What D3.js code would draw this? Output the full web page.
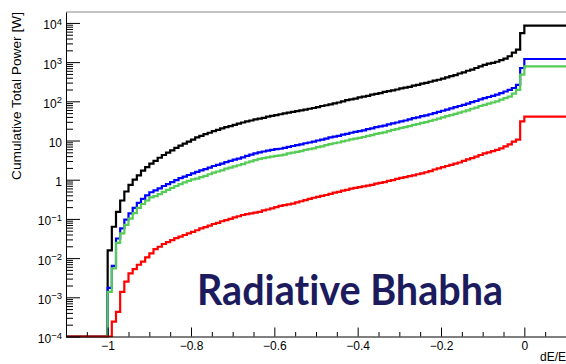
<!DOCTYPE html>
<html>
<head>
<meta charset="utf-8">
<script src="https://cdn.jsdelivr.net/npm/d3@7"></script>
<style>
  html, body { margin: 0; padding: 0; background: #fff; }
  svg { display: block; }
</style>
</head>
<body>
<script>
// Cumulative total power [W] per dE/E bin (bin width 0.01, bins from -1.00 to -0.01).
// Bins below -1.00 are empty; every bin from 0 to 0.1 holds the full total.
const binWidth = 0.01;
const firstBinLow = -1.0;

const powerBlack = [
  0.0158, 0.0631, 0.151, 0.295, 0.501, 0.741, 1.00, 1.29, 1.70, 2.09,
  2.57, 3.02, 3.63, 4.27, 4.90, 5.62, 6.46, 7.41, 8.32, 9.33,
  10.5, 12.0, 13.2, 14.5, 15.8, 17.4, 18.6, 20.4, 21.9, 23.4,
  25.1, 26.9, 28.8, 30.9, 32.4, 34.7, 36.3, 38.0, 40.7, 42.7,
  44.7, 46.8, 49.0, 51.3, 53.7, 56.2, 58.9, 61.7, 64.6, 67.6,
  70.8, 75.9, 79.4, 83.2, 89.1, 93.3, 100, 107, 112, 117,
  126, 132, 138, 148, 155, 162, 174, 182, 191, 200,
  214, 224, 234, 251, 263, 282, 295, 316, 339, 355,
  380, 407, 437, 468, 513, 550, 603, 646, 708, 776,
  851, 912, 955, 1023, 1122, 1230, 1413, 1738, 2089, 5495
];
const powerBlue = [
  0.00174, 0.00631, 0.0316, 0.0575, 0.0955, 0.138, 0.191, 0.257, 0.324, 0.398,
  0.479, 0.537, 0.603, 0.692, 0.776, 0.871, 0.977, 1.10, 1.20, 1.32,
  1.45, 1.58, 1.74, 1.86, 2.04, 2.24, 2.40, 2.57, 2.82, 3.02,
  3.24, 3.47, 3.72, 4.07, 4.37, 4.68, 5.01, 5.25, 5.50, 5.75,
  6.03, 6.17, 6.46, 6.92, 7.24, 7.59, 7.94, 8.51, 8.91, 9.33,
  10.0, 10.5, 11.2, 12.0, 12.6, 13.2, 14.1, 14.8, 15.8, 16.6,
  17.4, 18.2, 19.5, 20.4, 21.9, 22.9, 24.0, 25.7, 27.5, 28.8,
  30.9, 32.4, 34.7, 37.2, 38.9, 41.7, 43.7, 46.8, 50.1, 53.7,
  57.5, 61.7, 66.1, 70.8, 75.9, 81.3, 87.1, 95.5, 102, 112,
  120, 129, 138, 148, 162, 178, 195, 219, 263, 708
];
const powerGreen = [
  0.00138, 0.00550, 0.0245, 0.0427, 0.0708, 0.102, 0.141, 0.191, 0.240, 0.295,
  0.355, 0.380, 0.427, 0.490, 0.550, 0.617, 0.692, 0.776, 0.851, 0.933,
  1.02, 1.07, 1.17, 1.26, 1.38, 1.51, 1.62, 1.74, 1.91, 2.04,
  2.19, 2.34, 2.51, 2.75, 2.95, 3.16, 3.39, 3.55, 3.72, 3.89,
  4.07, 4.17, 4.37, 4.68, 4.90, 5.13, 5.37, 5.75, 6.03, 6.31,
  6.76, 7.08, 7.59, 8.13, 8.51, 8.91, 9.55, 10.0, 10.7, 11.2,
  11.7, 12.3, 13.2, 13.8, 14.8, 15.5, 16.2, 17.4, 18.6, 19.5,
  20.9, 21.9, 23.4, 25.1, 26.3, 28.2, 29.5, 31.6, 33.9, 36.3,
  38.9, 41.7, 44.7, 47.9, 51.3, 55.0, 58.9, 64.6, 69.2, 75.9,
  81.3, 87.1, 93.3, 100, 110, 120, 132, 158, 195, 479
];
const powerRed = [
  0, 0.00024, 0.000427, 0.00138, 0.00251, 0.00407, 0.00525, 0.00676, 0.00813, 0.0105,
  0.0132, 0.0170, 0.0195, 0.0229, 0.0257, 0.0288, 0.0324, 0.0355, 0.0389, 0.0427,
  0.0468, 0.0513, 0.0575, 0.0617, 0.0676, 0.0741, 0.0794, 0.0871, 0.0933, 0.100,
  0.110, 0.117, 0.126, 0.132, 0.138, 0.145, 0.151, 0.166, 0.174, 0.186,
  0.200, 0.214, 0.224, 0.234, 0.245, 0.263, 0.282, 0.302, 0.324, 0.347,
  0.363, 0.389, 0.407, 0.437, 0.468, 0.490, 0.525, 0.550, 0.589, 0.617,
  0.646, 0.676, 0.708, 0.741, 0.794, 0.832, 0.871, 0.933, 0.977, 1.05,
  1.12, 1.17, 1.23, 1.29, 1.38, 1.45, 1.55, 1.66, 1.82, 1.95,
  2.09, 2.24, 2.40, 2.57, 2.75, 3.02, 3.31, 3.55, 3.89, 4.27,
  4.68, 5.01, 5.37, 5.75, 6.31, 7.08, 7.94, 9.33, 10.5, 30.9
];
// Full totals (dE/E >= 0)
const totalPower = { black: 8511, blue: 1202, green: 776, red: 40.7 };

const seriesColors = { black: "#000000", blue: "#0000ff", green: "#55cc55", red: "#ff0000" };

const xMajorTicks = [-1, -0.8, -0.6, -0.4, -0.2, 0];
const yMajorTicks = [1e-4, 1e-3, 1e-2, 1e-1, 1, 10, 1e2, 1e3, 1e4];
const yTickLabels = [["10", "\u22124"], ["10", "\u22123"], ["10", "\u22122"], ["10", "\u22121"],
                     ["1", ""], ["10", ""], ["10", "2"], ["10", "3"], ["10", "4"]];

const W = 566, H = 364;
const plot = { left: 66, right: 566, top: 12, bottom: 336.5 };

const svg = d3.select("body").append("svg").attr("width", W).attr("height", H);

const x = d3.scaleLinear().domain([-1.1, 0.1]).range([plot.left, plot.right]);
const y = d3.scaleLog().domain([1e-4, 1.9e4]).range([plot.bottom, plot.top]);

const font = "'Liberation Sans', Arial, Helvetica, sans-serif";

svg.append("defs").append("clipPath").attr("id", "plotclip")
  .append("rect")
  .attr("x", plot.left).attr("y", plot.top - 2)
  .attr("width", plot.right - plot.left).attr("height", plot.bottom - plot.top + 3);

// top frame edge
svg.append("line")
  .attr("x1", plot.left).attr("x2", plot.right)
  .attr("y1", plot.top).attr("y2", plot.top)
  .attr("stroke", "#8a8a8a").attr("stroke-width", 1);

// ---- step histograms ----
const floorY = y(1e-4);
const yPos = v => (v > 0 ? Math.min(y(v), floorY) : floorY);

function stepPoints(values, total) {
  const pts = [[-1.1, 0]];
  values.forEach((v, i) => pts.push([firstBinLow + i * binWidth, v]));
  pts.push([0, total]);
  pts.push([0.1, total]);
  return pts;
}

const line = d3.line()
  .x(d => x(d[0]))
  .y(d => yPos(d[1]))
  .curve(d3.curveStepAfter);

const series = [
  { key: "black", values: powerBlack },
  { key: "blue", values: powerBlue },
  { key: "green", values: powerGreen },
  { key: "red", values: powerRed }
];

const gLines = svg.append("g").attr("clip-path", "url(#plotclip)");
gLines.selectAll("path")
  .data(series)
  .join("path")
  .attr("d", s => line(stepPoints(s.values, totalPower[s.key])))
  .attr("fill", "none")
  .attr("stroke", s => seriesColors[s.key])
  .attr("stroke-width", 2.2)
  .attr("stroke-linejoin", "miter")
  .attr("stroke-linecap", "square");

// ---- axes ----
// y minor ticks
const yMinor = [];
for (let e = -4; e <= 4; e++) {
  for (let m = 2; m <= 9; m++) {
    const v = m * Math.pow(10, e);
    if (v <= y.domain()[1]) yMinor.push(v);
  }
}
svg.append("g")
  .attr("transform", `translate(${plot.left},0)`)
  .call(d3.axisLeft(y).tickValues(yMinor).tickSize(-7).tickSizeOuter(0).tickFormat(""))
  .call(g => g.select(".domain").remove())
  .call(g => g.selectAll("line").attr("stroke", "#000"));

const yAxis = svg.append("g")
  .attr("transform", `translate(${plot.left},0)`)
  .call(d3.axisLeft(y).tickValues(yMajorTicks).tickSize(-14).tickSizeOuter(0).tickPadding(4).tickFormat(""));
yAxis.select(".domain").attr("stroke", "#000");
yAxis.selectAll("line").attr("stroke", "#000");
yAxis.selectAll(".tick text")
  .attr("font-family", font).attr("font-size", 12).attr("fill", "#000")
  .attr("dy", "0.5em")
  .each(function (d, i) {
    const t = d3.select(this);
    const [base, exp] = yTickLabels[i];
    t.append("tspan").text(base);
    if (exp) t.append("tspan").attr("font-size", 9.5).attr("dy", -4.5).text(exp);
  });

// x axis
const xMinor = d3.range(-22, 3).map(i => +(i * 0.05).toFixed(2))
  .filter(v => !xMajorTicks.includes(v) && v > -1.1 && v < 0.1);
svg.append("g")
  .attr("transform", `translate(0,${plot.bottom})`)
  .call(d3.axisBottom(x).tickValues(xMinor).tickSize(-4.5).tickSizeOuter(0).tickFormat(""))
  .call(g => g.select(".domain").remove())
  .call(g => g.selectAll("line").attr("stroke", "#000"));

const xAxis = svg.append("g")
  .attr("transform", `translate(0,${plot.bottom})`)
  .call(d3.axisBottom(x).tickValues(xMajorTicks).tickSize(-9).tickSizeOuter(0).tickPadding(5)
    .tickFormat(d3.format("")));
xAxis.select(".domain").attr("stroke", "#000");
xAxis.selectAll("line").attr("stroke", "#000");
xAxis.selectAll("text").attr("font-family", font).attr("font-size", 12).attr("fill", "#000");

// axis titles
svg.append("text")
  .attr("transform", `translate(21,${plot.top}) rotate(-90)`)
  .attr("text-anchor", "end")
  .attr("font-family", font).attr("font-size", 12.5).attr("fill", "#000")
  .attr("textLength", 168).attr("lengthAdjust", "spacingAndGlyphs")
  .text("Cumulative Total Power [W]");

svg.append("text")
  .attr("x", 566).attr("y", 361)
  .attr("text-anchor", "end")
  .attr("font-family", font).attr("font-size", 12).attr("fill", "#000")
  .text("dE/E");

// plot title
svg.append("text")
  .attr("x", 197).attr("y", 305)
  .attr("font-family", "Lato, 'Open Sans', sans-serif")
  .attr("font-weight", 700).attr("font-size", 42)
  .style("font-variant-ligatures", "none")
  .style("font-feature-settings", "'liga' 0, 'clig' 0")
  .attr("textLength", 306).attr("lengthAdjust", "spacingAndGlyphs")
  .attr("fill", "#1b1b5e")
  .text("Radiative Bhabha");
</script>
</body>
</html>
